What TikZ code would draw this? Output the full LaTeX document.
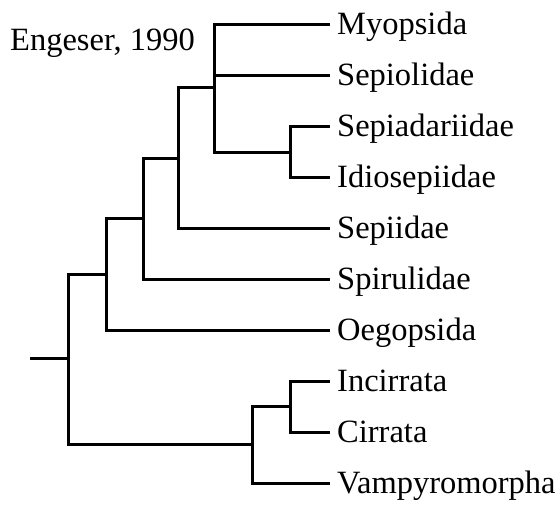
\documentclass[tikz,border=0pt]{standalone}
\usepackage{fontspec}
\setmainfont{Liberation Serif}
\begin{document}
\begin{tikzpicture}[x=1pt,y=-1pt,
  branch/.style={line width=3pt,line cap=rect,line join=miter},
  leaflabel/.style={anchor=base west,inner sep=0pt,font=\fontsize{32.5}{36}\selectfont}]
\useasboundingbox (0,0) rectangle (560,505);
% leaf tips
\foreach \n/\y in {myo/24.5,sepl/75.5,sepd/126.5,idio/177.5,sepi/228.5,spir/279.5,oeg/330.5,inc/381.5,cir/432.5,vamp/483.5}
  \coordinate (\n) at (328,\y);
% labels
\node[leaflabel] (Lmyo)  at (337,34.5)  {Myopsida};
\node[leaflabel] (Lsepl) at (337,85.5)  {Sepiolidae};
\node[leaflabel] (Lsepd) at (337,136.5) {Sepiadariidae};
\node[leaflabel] (Lidio) at (337,187.5) {Idiosepiidae};
\node[leaflabel] (Lsepi) at (337,238.5) {Sepiidae};
\node[leaflabel] (Lspir) at (337,289.5) {Spirulidae};
\node[leaflabel] (Loeg)  at (337,340.5) {Oegopsida};
\node[leaflabel] (Linc)  at (337,391.5) {Incirrata};
\node[leaflabel] (Lcir)  at (337,442.5) {Cirrata};
\node[leaflabel] (Lvamp) at (337,493.5) {Vampyromorpha};
\node[leaflabel] (title) at (10,51) {Engeser, 1990};
% internal nodes
\coordinate (n1) at (290.5,152.5);
\coordinate (n2) at (214.5,87.5);
\coordinate (n3) at (178.5,158.5);
\coordinate (n4) at (143.5,218.5);
\coordinate (n5) at (106.5,274.5);
\coordinate (n7) at (290.5,406.5);
\coordinate (n8) at (252.5,444.5);
\coordinate (root) at (68.5,358.5);
\coordinate (stub) at (31,358.5);
% branches
\draw[branch] (n1) |- (sepd);
\draw[branch] (n1) |- (idio);
\draw[branch] (n2) |- (myo);
\draw[branch] (n2) |- (sepl);
\draw[branch] (n2) |- (n1);
\draw[branch] (n3) |- (n2);
\draw[branch] (n3) |- (sepi);
\draw[branch] (n4) |- (n3);
\draw[branch] (n4) |- (spir);
\draw[branch] (n5) |- (n4);
\draw[branch] (n5) |- (oeg);
\draw[branch] (n7) |- (inc);
\draw[branch] (n7) |- (cir);
\draw[branch] (n8) |- (n7);
\draw[branch] (n8) |- (vamp);
\draw[branch] (root) |- (n5);
\draw[branch] (root) |- (n8);
\draw[branch] (stub) -- (root);
\end{tikzpicture}
\end{document}
